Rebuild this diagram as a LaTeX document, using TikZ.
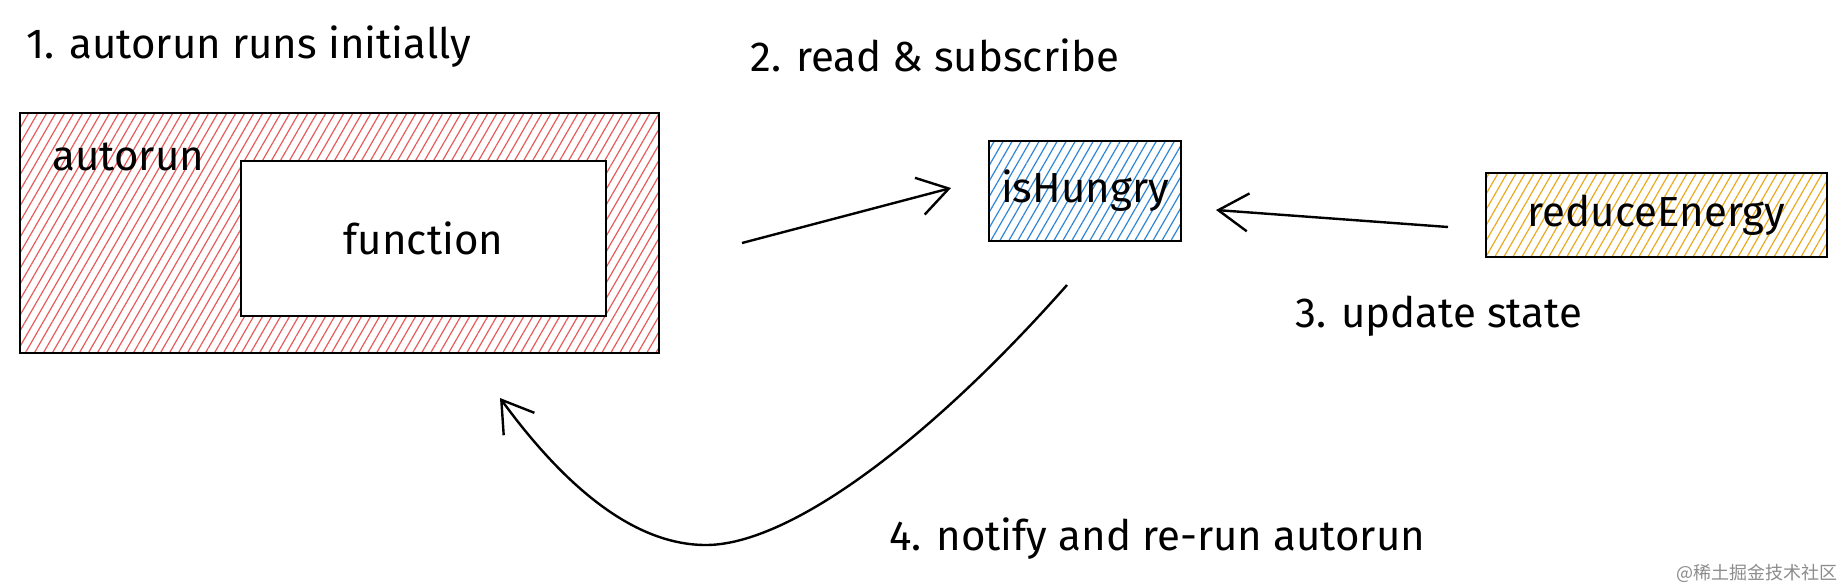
\documentclass[tikz,border=0pt]{standalone}
\usepackage{fontspec}
\setmainfont{Fira Sans}
\newfontfamily\cjk{Noto Sans CJK SC}
\usetikzlibrary{patterns.meta,arrows.meta}
\definecolor{hred}{HTML}{E95A5A}
\definecolor{hblue}{HTML}{2F86D6}
\definecolor{hyellow}{HTML}{EBAA1E}
\tikzset{
  lbl/.style={font=\fontsize{21}{25}\selectfont, inner sep=0pt, anchor=west},
  boxtxt/.style={font=\fontsize{21}{25}\selectfont},
  sketchbox/.style={draw=black, line width=1.3pt, inner sep=0pt},
  hatch/.style={pattern={Lines[angle=60,distance=3.9pt,line width=0.6pt]}, pattern color=#1},
  sketcharrow/.style={line width=1.2pt, -{Straight Barb[length=15pt,width=19pt,line width=1.2pt]}},
}
\begin{document}
\begin{tikzpicture}[x=0.5pt,y=-0.5pt]
\useasboundingbox (0,0) rectangle (1846,584);
\fill[white] (0,0) rectangle (1846,584);

% boxes
\node[sketchbox, hatch=hred, minimum width=319.5pt, minimum height=120pt] (autorun) at (339.5,233) {};
\node[sketchbox, fill=white, minimum width=182.5pt, minimum height=77.5pt, boxtxt] (func) at (423.5,238.5) {function};
\node[lbl] (autorunlbl) at (52,157) {autorun};

\node[sketchbox, hatch=hblue, minimum width=96pt, minimum height=50pt, boxtxt] (hungry) at (1085,191) {isHungry};
\node[sketchbox, hatch=hyellow, minimum width=170.5pt, minimum height=42pt, boxtxt] (reduce) at (1656.5,215) {reduceEnergy};

% labels
\node[lbl] (l1) at (26,47) {1. autorun runs initially};
\node[lbl] (l2) at (750,55) {2. read \& subscribe};
\node[lbl] (l3) at (1295,316) {3. update state};
\node[lbl] (l4) at (889,539) {4. notify and re-run autorun};
\node[font=\cjk\fontsize{9}{11}\selectfont, text=black!45, inner sep=0pt] (wm) at (1757,573) {@稀土掘金技术社区};

% arrows
\coordinate (a1s) at (742,243);
\coordinate (a1e) at (951,188);
\draw[sketcharrow] (a1s) -- (a1e);

\coordinate (a3s) at (1448,227);
\coordinate (a3e) at (1216,210);
\draw[sketcharrow] (a3s) -- (a3e);

\coordinate (a4s) at (1067,285);
\coordinate (a4m) at (706,545);
\coordinate (a4e) at (500,398);
\draw[sketcharrow] (a4s) .. controls (930,440) and (790,545) .. (a4m) .. controls (630,545) and (560,480) .. (a4e);
\end{tikzpicture}
\end{document}
